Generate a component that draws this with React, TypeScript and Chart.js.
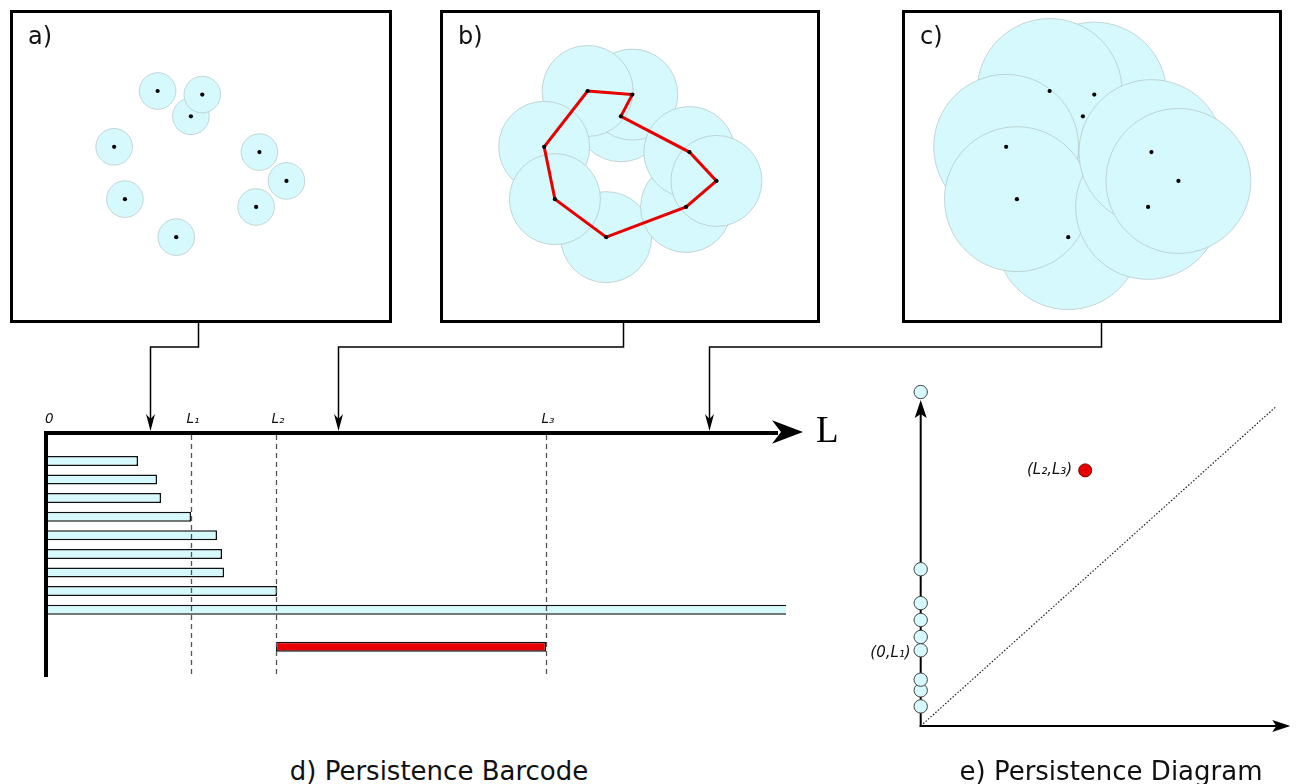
import React, { useEffect, useRef } from 'react';
import { Chart, registerables } from 'chart.js';

Chart.register(...registerables);

// ---------- point cloud (panel units, 1 unit = 1 px of the panel box) ----------
const cloudX = [146.7, 192.3, 180.7, 102.3, 250.7, 278.3, 113.3, 247.3, 165.7];
const cloudY = [79, 82.7, 105, 136.3, 141.7, 171.3, 190, 198, 229];
const ballOrder = [3, 2, 1, 4, 9, 7, 8, 5, 6];
const loopOrder = [1, 2, 3, 5, 6, 8, 9, 7, 4, 1];
const panelNames = ['a)', 'b)', 'c)'];
const panelBallRadius = [18.7, 46.5, 74];

// ---------- persistence barcode (filtration value L) ----------
const h0Deaths = [0.92, 1.11, 1.15, 1.45, 1.71, 1.76, 1.78, 2.31, 7.4];
const h1Bar = [2.3, 5.0];
const thresholdValues = [0, 1.45, 2.3, 5.0];
const thresholdLabels = ['0', 'L₁', 'L₂', 'L₃'];
const panelThresholds = [1.04, 2.92, 6.63];

// ---------- persistence diagram ----------
const diagramDeaths = [0.22, 0.4, 0.52, 0.85, 1.0, 1.19, 1.38, 1.76];
const diagramInfinity = 3.75;
const loopBirth = 1.66;
const loopDeath = 2.87;
const diagonalEnd = 3.58;

const CYAN = 'rgb(213,249,252)';
const RED = '#e60000';
const FONT = '"DejaVu Sans", sans-serif';

function arrowHead(ctx: CanvasRenderingContext2D, tipX: number, tipY: number, dx: number, dy: number, len: number, half: number, notch: number) {
  const px = -dy;
  const py = dx;
  const bx = tipX - dx * len;
  const by = tipY - dy * len;
  ctx.beginPath();
  ctx.moveTo(tipX, tipY);
  ctx.lineTo(bx + px * half, by + py * half);
  ctx.lineTo(tipX - dx * (len - notch), tipY - dy * (len - notch));
  ctx.lineTo(bx - px * half, by - py * half);
  ctx.closePath();
  ctx.fill();
}

const PANEL_H = 313;

function Panel({ idx, left, width }: { idx: number; left: number; width: number }) {
  const ref = useRef<HTMLCanvasElement>(null);
  useEffect(() => {
    const r = panelBallRadius[idx];
    const balls = ballOrder.map((id) => ({ x: cloudX[id - 1], y: cloudY[id - 1] }));
    const dots = cloudX.map((x, i) => ({ x, y: cloudY[i] }));
    const datasets: any[] = [
      {
        type: 'scatter',
        data: balls,
        order: 3,
        pointRadius: (c: any) => {
          const s = c.chart.scales.x;
          return Math.abs(s.getPixelForValue(r) - s.getPixelForValue(0));
        },
        pointBackgroundColor: CYAN,
        pointBorderColor: '#b3c4c6',
        pointBorderWidth: 0.7,
        clip: false,
      },
    ];
    if (idx === 1) {
      datasets.push({
        type: 'line',
        order: 2,
        data: loopOrder.map((id) => ({ x: cloudX[id - 1], y: cloudY[id - 1] })),
        borderColor: RED,
        borderWidth: 3,
        pointRadius: 0,
        fill: false,
        tension: 0,
        clip: false,
      });
    }
    datasets.push({
      type: 'scatter',
      order: 1,
      data: dots,
      pointRadius: 2.1,
      pointBackgroundColor: '#000',
      pointBorderWidth: 0,
      clip: false,
    });
    const frame = {
      id: 'frame' + idx,
      afterDraw(chart: any) {
        const { ctx, width: w, height: h } = chart;
        ctx.save();
        ctx.strokeStyle = '#000';
        ctx.lineWidth = 3;
        ctx.strokeRect(1.5, 1.5, w - 3, h - 3);
        ctx.fillStyle = '#111';
        ctx.font = `24px ${FONT}`;
        ctx.textBaseline = 'alphabetic';
        ctx.fillText(panelNames[idx], 18, 34);
        ctx.restore();
      },
    };
    const chart = new Chart(ref.current as HTMLCanvasElement, {
      type: 'scatter',
      data: { datasets },
      options: {
        animation: false,
        responsive: false,
        events: [],
        layout: { padding: 0 },
        scales: {
          x: { type: 'linear', min: 0, max: width, display: false },
          y: { type: 'linear', min: 0, max: PANEL_H, reverse: true, display: false },
        },
        plugins: { legend: { display: false }, tooltip: { enabled: false } },
      } as any,
      plugins: [frame],
    });
    return () => chart.destroy();
  }, []);
  return (
    <canvas
      ref={ref}
      width={width}
      height={PANEL_H}
      style={{ position: 'absolute', left, top: 10 }}
    />
  );
}

// Barcode canvas placed at page (0, 320)
const BC_TOP = 320;
const BC_H = 380;

function Barcode() {
  const ref = useRef<HTMLCanvasElement>(null);
  useEffect(() => {
    const essentialIndex = h0Deaths.length - 1;
    const redIndex = h0Deaths.length;
    const barData: any[] = h0Deaths.map((d, i) => ({ x: [0, d], y: i + 1 }));
    barData.push({ x: h1Bar, y: h0Deaths.length + 2 });

    const sources = [198, 623, 1101]; // bottom of panels a, b, c (page x)
    const deco = {
      id: 'barcodeDeco',
      afterDatasetsDraw(chart: any) {
        const { ctx, chartArea } = chart;
        const xs = chart.scales.x;
        const y0 = chartArea.top;
        const x0 = xs.getPixelForValue(0);
        ctx.save();
        // dashed threshold lines
        ctx.setLineDash([5, 4]);
        ctx.strokeStyle = '#555';
        ctx.lineWidth = 1.3;
        thresholdValues.slice(1).forEach((v) => {
          const px = Math.round(xs.getPixelForValue(v)) + 0.5;
          ctx.beginPath();
          ctx.moveTo(px, y0 + 2);
          ctx.lineTo(px, chartArea.bottom);
          ctx.stroke();
        });
        ctx.setLineDash([]);
        // axes
        ctx.strokeStyle = '#000';
        ctx.fillStyle = '#000';
        ctx.lineWidth = 4;
        ctx.beginPath();
        ctx.moveTo(x0, y0 - 2);
        ctx.lineTo(x0, chartArea.bottom);
        ctx.stroke();
        const tip = xs.getPixelForValue(7.57);
        ctx.beginPath();
        ctx.moveTo(x0 - 2, y0);
        ctx.lineTo(tip - 25, y0);
        ctx.stroke();
        arrowHead(ctx, tip, y0 - 1, 1, 0, 31, 11.7, 9);
        ctx.font = '37px "Liberation Serif", serif';
        ctx.textBaseline = 'alphabetic';
        ctx.fillText('L', tip + 13, y0 + 9);
        // tick labels
        ctx.font = `italic 13.5px ${FONT}`;
        ctx.fillStyle = '#111';
        thresholdValues.forEach((v, i) => {
          const px = xs.getPixelForValue(v);
          ctx.fillText(thresholdLabels[i], i === 0 ? px - 1 : px - 4.5, y0 - 10.5);
        });
        // connectors from panels
        ctx.fillStyle = '#000';
        ctx.strokeStyle = '#000';
        ctx.lineWidth = 1.5;
        const hy = 27;
        panelThresholds.forEach((v, i) => {
          const tx = Math.round(xs.getPixelForValue(v)) + 0.5;
          const sx = sources[i] + 0.5;
          ctx.beginPath();
          ctx.moveTo(sx, 0);
          ctx.lineTo(sx, hy);
          ctx.lineTo(tx, hy);
          ctx.lineTo(tx, y0 - 10);
          ctx.stroke();
          arrowHead(ctx, tx, y0 - 2, 0, 1, 17, 4.5, 5);
        });
        ctx.restore();
      },
    };

    const chart = new Chart(ref.current as HTMLCanvasElement, {
      type: 'bar',
      data: {
        datasets: [
          {
            data: barData,
            backgroundColor: (c: any) => (c.dataIndex === redIndex ? RED : CYAN),
            borderColor: '#111',
            borderWidth: (c: any) =>
              c.dataIndex === essentialIndex ? { top: 1.5, bottom: 1.5, left: 0, right: 0 } : 1.5,
            borderSkipped: false,
            barThickness: 10,
            inflateAmount: 0,
          },
        ],
      },
      options: {
        indexAxis: 'y',
        animation: false,
        responsive: false,
        events: [],
        layout: { padding: { left: 46, right: 452, top: 433 - BC_TOP, bottom: BC_H - (677 - BC_TOP) } },
        scales: {
          x: { type: 'linear', min: 0, max: 8, display: false, offset: false },
          y: { type: 'linear', min: -0.5, max: 12.62, reverse: true, display: false, offset: false },
        },
        plugins: { legend: { display: false }, tooltip: { enabled: false } },
      } as any,
      plugins: [deco],
    });
    return () => chart.destroy();
  }, []);
  return (
    <canvas
      ref={ref}
      width={1298}
      height={BC_H}
      style={{ position: 'absolute', left: 0, top: BC_TOP }}
    />
  );
}

// Diagram canvas at page (860, 380)
const PD_LEFT = 860;
const PD_TOP = 380;
const PD_W = 438;
const PD_H = 360;

function Diagram() {
  const ref = useRef<HTMLCanvasElement>(null);
  useEffect(() => {
    const axisPlugin = {
      id: 'pdAxes',
      beforeDatasetsDraw(chart: any) {
        const { ctx, chartArea } = chart;
        const x0 = chart.scales.x.getPixelForValue(0);
        const y0 = chart.scales.y.getPixelForValue(0);
        ctx.save();
        ctx.strokeStyle = '#000';
        ctx.fillStyle = '#000';
        ctx.lineWidth = 2;
        const vTip = chartArea.top + 8;
        ctx.beginPath();
        ctx.moveTo(x0, y0 + 1);
        ctx.lineTo(x0, vTip + 12);
        ctx.stroke();
        arrowHead(ctx, x0, vTip, 0, -1, 18, 6, 4);
        const hTip = chartArea.right;
        ctx.beginPath();
        ctx.moveTo(x0 - 1, y0);
        ctx.lineTo(hTip - 12, y0);
        ctx.stroke();
        arrowHead(ctx, hTip, y0, 1, 0, 18, 6, 4);
        ctx.restore();
      },
      afterDatasetsDraw(chart: any) {
        const { ctx } = chart;
        const xs = chart.scales.x;
        const ys = chart.scales.y;
        ctx.save();
        ctx.fillStyle = '#111';
        ctx.font = `italic 15px ${FONT}`;
        ctx.textAlign = 'right';
        ctx.textBaseline = 'middle';
        ctx.fillText('(0,L₁)', xs.getPixelForValue(0) - 10, ys.getPixelForValue(diagramDeaths[3]) + 2.5);
        ctx.fillText('(L₂,L₃)', xs.getPixelForValue(loopBirth) - 13, ys.getPixelForValue(loopDeath));
        ctx.restore();
      },
    };

    const chart = new Chart(ref.current as HTMLCanvasElement, {
      type: 'scatter',
      data: {
        datasets: [
          {
            type: 'line',
            order: 3,
            data: [
              { x: 0, y: 0 },
              { x: diagonalEnd, y: diagonalEnd },
            ],
            borderColor: '#222',
            borderWidth: 1.2,
            borderDash: [1.5, 1.8],
            pointRadius: 0,
            fill: false,
            clip: false,
          },
          {
            order: 2,
            data: [...diagramDeaths.map((d) => ({ x: 0, y: d })), { x: 0, y: diagramInfinity }],
            pointRadius: 6.7,
            pointBackgroundColor: CYAN,
            pointBorderColor: '#444',
            pointBorderWidth: 1,
            clip: false,
          },
          {
            order: 1,
            data: [{ x: loopBirth, y: loopDeath }],
            pointRadius: 6.5,
            pointBackgroundColor: RED,
            pointBorderColor: '#700',
            pointBorderWidth: 1,
            clip: false,
          },
        ] as any,
      },
      options: {
        animation: false,
        responsive: false,
        events: [],
        layout: {
          padding: {
            left: 920.7 - PD_LEFT,
            right: PD_W - (920.7 - PD_LEFT) - 373,
            top: 392 - PD_TOP,
            bottom: PD_H - (726 - PD_TOP),
          },
        },
        scales: {
          x: { type: 'linear', min: 0, max: 3.73, display: false },
          y: { type: 'linear', min: 0, max: 3.75, display: false },
        },
        plugins: { legend: { display: false }, tooltip: { enabled: false } },
      } as any,
      plugins: [axisPlugin],
    });
    return () => chart.destroy();
  }, []);
  return (
    <canvas
      ref={ref}
      width={PD_W}
      height={PD_H}
      style={{ position: 'absolute', left: PD_LEFT, top: PD_TOP }}
    />
  );
}

const titleStyle = (center: number): React.CSSProperties => ({
  position: 'absolute',
  left: center - 250,
  width: 500,
  top: 756,
  textAlign: 'center',
  fontFamily: FONT,
  fontSize: 26,
  lineHeight: '30px',
  color: '#111',
  whiteSpace: 'nowrap',
});

export default function App() {
  return (
    <div
      style={{
        position: 'absolute',
        left: 0,
        top: 0,
        width: 1298,
        height: 784,
        background: '#fff',
        overflow: 'hidden',
        fontFamily: FONT,
      }}
    >
      <Panel idx={0} left={10} width={382} />
      <Panel idx={1} left={440} width={380} />
      <Panel idx={2} left={902} width={380} />
      <Barcode />
      <Diagram />
      <div style={titleStyle(439)}>d) Persistence Barcode</div>
      <div style={titleStyle(1111)}>e) Persistence Diagram</div>
    </div>
  );
}
